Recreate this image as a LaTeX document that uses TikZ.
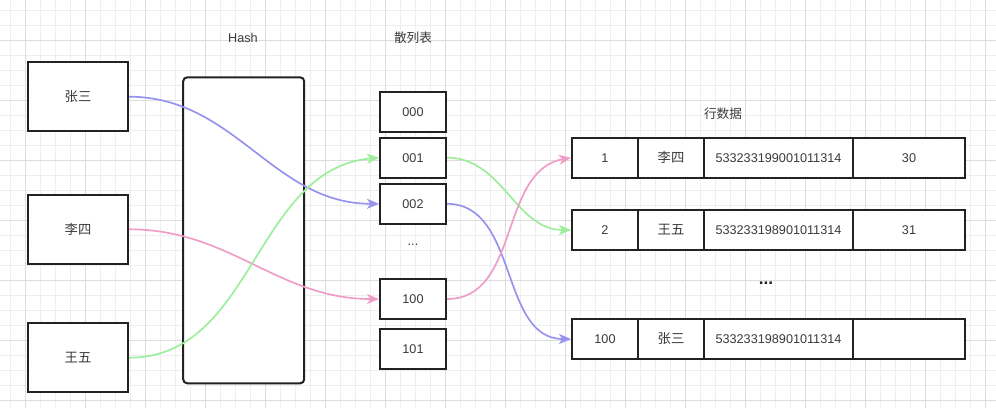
\documentclass[tikz,border=0pt]{standalone}
\usepackage{fontspec}
\setmainfont{Liberation Sans}
\newfontfamily\cjk{Noto Sans CJK SC}
\usetikzlibrary{arrows.meta}

\definecolor{linkblue}{HTML}{9692EE}
\definecolor{linkpink}{HTML}{F09CC6}
\definecolor{linkgreen}{HTML}{9CEE9A}
\definecolor{gridminor}{HTML}{EEEEEE}
\definecolor{gridmajor}{HTML}{DDDDDD}
\definecolor{boxline}{HTML}{222222}
\definecolor{txt}{HTML}{3A3A3A}

\tikzset{
  cell/.style={draw=boxline, line width=1.5pt, fill=white, inner sep=0pt,
    text=txt, font=\fontsize{9.5}{11}\selectfont},
  person/.style={cell, minimum width=75pt, minimum height=51.75pt},
  slot/.style={cell, minimum width=49.5pt, minimum height=30pt},
  idcell/.style={cell, minimum width=111.75pt, minimum height=30pt},
  agecell/.style={cell, minimum width=84pt, minimum height=30pt},
  title/.style={text=txt, font=\fontsize{9.5}{11}\selectfont},
  link/.style={line width=1.25pt, -{Stealth[length=9pt,width=7.5pt,inset=2.5pt]}},
}

\begin{document}
\begin{tikzpicture}[x=0.75pt,y=-0.75pt]
        \useasboundingbox (0,0) rectangle (996,408);
        \fill[white] (0,0) rectangle (996,408);

        % background grid
        \foreach \gx in {10,25,...,996} \draw[gridminor, line width=0.6pt] (\gx,0) -- (\gx,408);
        \foreach \gy in {10,25,...,408} \draw[gridminor, line width=0.6pt] (0,\gy) -- (996,\gy);
        \foreach \gx in {25,85,...,996} \draw[gridmajor, line width=0.6pt] (\gx,0) -- (\gx,408);
        \foreach \gy in {40,100,...,408} \draw[gridmajor, line width=0.6pt] (0,\gy) -- (996,\gy);

        % Draw the people
        \node[person, font=\cjk\fontsize{10}{12}\selectfont] (zhang) at (78,96.7) {张三};
        \node[person, font=\cjk\fontsize{10}{12}\selectfont] (li) at (78,229.3) {李四};
        \node[person, font=\cjk\fontsize{10}{12}\selectfont] (wang) at (78,357.7) {王五};

        % Draw the hash box
        \node[title] (hashlabel) at (243,37.5) {Hash};
        \node[draw=boxline, line width=1.5pt, fill=white, rounded corners=3pt,
              minimum width=90.75pt, minimum height=229.5pt, inner sep=0pt] (hash) at (243.7,230.3) {};

        % Draw the hash table
        \node[title, font=\cjk\fontsize{9.5}{11}\selectfont] (tablelabel) at (413,37.5) {散列表};
        \node[slot] (h000) at (413,111.7) {000};
        \node[slot] (h001) at (413,157.7) {001};
        \node[slot] (h002) at (413,203.8) {002};
        \node[title] (hdots) at (413,245) {...};
        \node[slot] (h100) at (413,299) {100};
        \node[slot] (h101) at (413,348.8) {101};

        % Draw the row data
        \node[title, font=\cjk\fontsize{9.5}{11}\selectfont] (rowlabel) at (723,113.3) {行数据};

        \node[slot] (r1id) at (605,157.7) {1};
        \node[slot, font=\cjk\fontsize{10}{12}\selectfont] (r1name) at (671,157.7) {李四};
        \node[idcell] (r1card) at (778.5,157.7) {533233199001011314};
        \node[agecell] (r1age) at (909,157.7) {30};

        \node[slot] (r2id) at (605,230) {2};
        \node[slot, font=\cjk\fontsize{10}{12}\selectfont] (r2name) at (671,230) {王五};
        \node[idcell] (r2card) at (778.5,230) {533233198901011314};
        \node[agecell] (r2age) at (909,230) {31};

        \node[text=boxline, font=\bfseries\fontsize{13}{13}\selectfont] (rdots) at (766,283) {...};

        \node[slot] (r3id) at (605,339) {100};
        \node[slot, font=\cjk\fontsize{10}{12}\selectfont] (r3name) at (671,339) {张三};
        \node[idcell] (r3card) at (778.5,339) {533233198901011314};
        \node[agecell] (r3age) at (909,339) {};

        % Draw links from people to the hash table
        \draw[link, linkblue] (zhang.east) to[out=0, in=180] (h002.west);
        \draw[link, linkpink] (li.east) to[out=0, in=180] (h100.west);
        \draw[link, linkgreen] (wang.east) to[out=0, in=185] (h001.west);

        % Draw links from the hash table to the rows
        \draw[link, linkgreen] (h001.east) to[out=0, in=180] (r2id.west);
        \draw[link, linkblue] (h002.east) to[out=0, in=180] (r3id.west);
        \draw[link, linkpink] (h100.east) to[out=0, in=190] (r1id.west);
\end{tikzpicture}
\end{document}
